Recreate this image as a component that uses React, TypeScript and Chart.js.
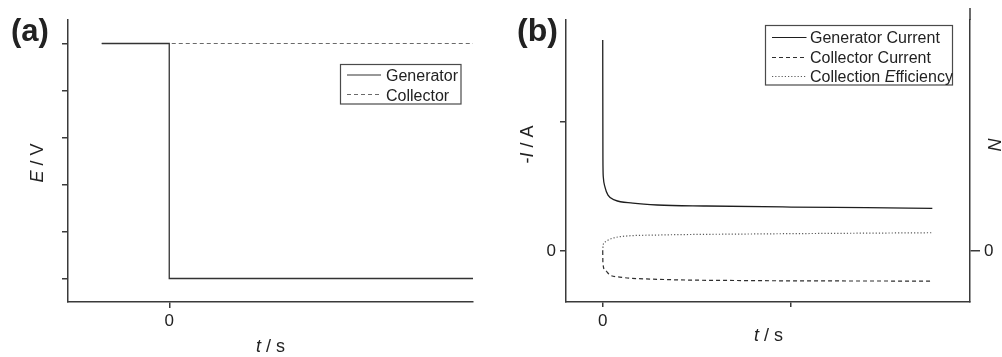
import React, { useEffect, useRef } from 'react';
import { Chart, registerables } from 'chart.js';
Chart.register(...registerables);

const FONT = '"Liberation Sans", Arial, Helvetica, sans-serif';
const AXIS = '#3a3a3a';
const TEXT = '#222222';

// ---------- Panel (a): potential steps ----------
const aTimeGenerator = [-2, 0, 0, 9];
const aPotentialGenerator = [5, 5, 0, 0];
const aTimeCollector = [-2, 9];
const aPotentialCollector = [5, 5];
const aXTicks = [0];
const aYTicks = [0, 1, 2, 3, 4, 5];
const aLegend = ['Generator', 'Collector'];

// ---------- Panel (b): currents & efficiency ----------
const bTimeGenerator = [0, 0.1, 0.3, 1.2, 2.8, 6.5, 16, 29, 55, 100, 140, 175];
const bCurrentGenerator = [1.636, 0.729, 0.574, 0.496, 0.434, 0.395, 0.372, 0.357, 0.349, 0.341, 0.336, 0.331];
const bTimeCollector = [0, 0.1, 1.2, 3.9, 9, 29, 77, 175];
const bCurrentCollector = [0, -0.093, -0.147, -0.186, -0.202, -0.219, -0.229, -0.233];
const bTimeEfficiency = [0, 0.2, 1.5, 3.5, 9, 29, 77, 175];
const bEfficiency = [0, 0.047, 0.072, 0.09, 0.111, 0.124, 0.132, 0.142];
const bXTicks = [0, 100];
const bYTicks = [0, 1];
const bY1Ticks = [0];
const bLegend = ['Generator Current', 'Collector Current', 'Collection Efficiency'];

type Seg = { text: string; italic?: boolean; bold?: boolean };

function segFont(s: Seg, size: number) {
  return `${s.italic ? 'italic ' : ''}${s.bold ? 'bold ' : ''}${size}px ${FONT}`;
}

function drawRich(ctx: CanvasRenderingContext2D, segs: Seg[], size: number, x: number, y: number, align: 'left' | 'center') {
  let total = 0;
  const widths = segs.map((s) => {
    ctx.font = segFont(s, size);
    const w = ctx.measureText(s.text).width;
    total += w;
    return w;
  });
  let cx = align === 'center' ? x - total / 2 : x;
  ctx.textAlign = 'left';
  ctx.textBaseline = 'alphabetic';
  segs.forEach((s, i) => {
    ctx.font = segFont(s, size);
    ctx.fillText(s.text, cx, y);
    cx += widths[i];
  });
}

function drawRotated(ctx: CanvasRenderingContext2D, segs: Seg[], size: number, x: number, y: number) {
  ctx.save();
  ctx.translate(x, y);
  ctx.rotate(-Math.PI / 2);
  drawRich(ctx, segs, size, 0, 0, 'center');
  ctx.restore();
}

function pts(xs: number[], ys: number[]) {
  return xs.map((x, i) => ({ x, y: ys[i] }));
}

function tickScale(values: number[]) {
  return (s: any) => {
    s.ticks = values.map((v) => ({ value: v }));
  };
}

type LegendItem = { label: Seg[]; color: string; dash: number[] };

function drawLegend(
  ctx: CanvasRenderingContext2D,
  box: { x: number; y: number; w: number; h: number },
  items: LegendItem[],
  rows: number[],
  lineX: [number, number],
  textX: number,
  baselines: number[]
) {
  ctx.save();
  ctx.strokeStyle = '#4a4a4a';
  ctx.lineWidth = 1.2;
  ctx.strokeRect(box.x, box.y, box.w, box.h);
  items.forEach((it, i) => {
    ctx.beginPath();
    ctx.setLineDash(it.dash);
    ctx.strokeStyle = it.color;
    ctx.lineWidth = 1.2;
    ctx.moveTo(lineX[0], rows[i]);
    ctx.lineTo(lineX[1], rows[i]);
    ctx.stroke();
    ctx.setLineDash([]);
    ctx.fillStyle = TEXT;
    drawRich(ctx, it.label, 16, textX, baselines[i], 'left');
  });
  ctx.restore();
}

function baseAxis(tickLength: number) {
  return {
    type: 'linear' as const,
    grid: { drawOnChartArea: false, drawTicks: true, tickLength, color: AXIS, lineWidth: 1.5 },
    border: { display: true, color: AXIS, width: 1.5 },
  };
}

export default function App() {
  const refA = useRef<HTMLCanvasElement | null>(null);
  const refB = useRef<HTMLCanvasElement | null>(null);

  useEffect(() => {
    const genA = '#333333';
    const colA = '#6a6a6a';
    const chartA = new Chart(refA.current as HTMLCanvasElement, {
      type: 'scatter',
      data: {
        datasets: [
          { label: aLegend[0], data: pts(aTimeGenerator, aPotentialGenerator), showLine: true, borderColor: genA, borderWidth: 1.3, pointRadius: 0, fill: false },
          { label: aLegend[1], data: pts(aTimeCollector, aPotentialCollector), showLine: true, borderColor: colA, borderWidth: 1.2, borderDash: [4, 3], pointRadius: 0, fill: false },
        ],
      },
      options: {
        responsive: false,
        animation: false,
        layout: { padding: { left: 0, top: 20, right: 27, bottom: 0 } },
        plugins: { legend: { display: false }, tooltip: { enabled: false } },
        scales: {
          x: {
            ...baseAxis(6),
            min: -3,
            max: 9,
            afterBuildTicks: tickScale(aXTicks),
            afterFit: (s: any) => { s.height = 55; },
            ticks: { color: TEXT, font: { size: 17, family: FONT }, padding: 3, maxRotation: 0 },
          },
          y: {
            ...baseAxis(6),
            min: -0.5,
            max: 5.5,
            afterBuildTicks: tickScale(aYTicks),
            afterFit: (s: any) => { s.width = 68; },
            ticks: { display: false },
          },
        },
      },
      plugins: [
        {
          id: 'decorA',
          afterDraw(chart: any) {
            const ctx = chart.ctx as CanvasRenderingContext2D;
            ctx.save();
            ctx.fillStyle = TEXT;
            drawRich(ctx, [{ text: '(a)', bold: true }], 31, 11, 41, 'left');
            drawRotated(ctx, [{ text: 'E', italic: true }, { text: ' / V' }], 18, 43, 163);
            drawRich(ctx, [{ text: 't', italic: true }, { text: ' / s' }], 18, 270.5, 352, 'center');
            drawLegend(
              ctx,
              { x: 340.5, y: 64.5, w: 120.5, h: 39.5 },
              [
                { label: [{ text: aLegend[0] }], color: genA, dash: [] },
                { label: [{ text: aLegend[1] }], color: colA, dash: [4, 3] },
              ],
              [75, 94.5],
              [347, 381],
              386,
              [81, 100.5]
            );
            ctx.restore();
          },
        },
      ],
    } as any);

    const genB = '#1e1e1e';
    const colB = '#2e2e2e';
    const effB = '#5a5a5a';
    const yMin = -0.395;
    const yMax = 1.791;
    const chartB = new Chart(refB.current as HTMLCanvasElement, {
      type: 'scatter',
      data: {
        datasets: [
          { label: bLegend[0], data: pts(bTimeGenerator, bCurrentGenerator), showLine: true, borderColor: genB, borderWidth: 1.3, pointRadius: 0, fill: false, cubicInterpolationMode: 'monotone', yAxisID: 'y' },
          { label: bLegend[1], data: pts(bTimeCollector, bCurrentCollector), showLine: true, borderColor: colB, borderWidth: 1.2, borderDash: [4, 3], pointRadius: 0, fill: false, cubicInterpolationMode: 'monotone', yAxisID: 'y' },
          { label: bLegend[2], data: pts(bTimeEfficiency, bEfficiency), showLine: true, borderColor: effB, borderWidth: 1.2, borderDash: [1.2, 2], pointRadius: 0, fill: false, cubicInterpolationMode: 'monotone', yAxisID: 'y1' },
        ],
      },
      options: {
        responsive: false,
        animation: false,
        layout: { padding: { left: 0, top: 20, right: 0, bottom: 0 } },
        plugins: { legend: { display: false }, tooltip: { enabled: false } },
        scales: {
          x: {
            ...baseAxis(5),
            min: -19.5,
            max: 195,
            afterBuildTicks: tickScale(bXTicks),
            afterFit: (s: any) => { s.height = 55; },
            ticks: { color: TEXT, font: { size: 17, family: FONT }, padding: 4, maxRotation: 0, callback: (v: any) => (v === 0 ? '0' : '') },
          },
          y: {
            ...baseAxis(6),
            position: 'left',
            min: yMin,
            max: yMax,
            afterBuildTicks: tickScale(bYTicks),
            afterFit: (s: any) => { s.width = 66; },
            ticks: { color: TEXT, font: { size: 17, family: FONT }, padding: 4, callback: (v: any) => (v === 0 ? '0' : '') },
          },
          y1: {
            ...baseAxis(10),
            position: 'right',
            min: yMin,
            max: yMax,
            afterBuildTicks: tickScale(bY1Ticks),
            afterFit: (s: any) => { s.width = 32; },
            ticks: { color: TEXT, font: { size: 17, family: FONT }, padding: 4, callback: (v: any) => (v === 0 ? '0' : '') },
          },
        },
      },
      plugins: [
        {
          id: 'decorB',
          afterDraw(chart: any) {
            const ctx = chart.ctx as CanvasRenderingContext2D;
            const ca = chart.chartArea;
            ctx.save();
            // right axis continues above the plot top
            ctx.strokeStyle = AXIS;
            ctx.lineWidth = 1.5;
            ctx.beginPath();
            ctx.moveTo(ca.right, 8);
            ctx.lineTo(ca.right, ca.top);
            ctx.stroke();
            ctx.fillStyle = TEXT;
            drawRich(ctx, [{ text: '(b)', bold: true }], 32, 17, 41, 'left');
            drawRotated(ctx, [{ text: '-' }, { text: 'I', italic: true }, { text: ' / A' }], 18, 33, 144.5);
            drawRotated(ctx, [{ text: 'N', italic: true }], 18, 501, 145);
            drawRich(ctx, [{ text: 't', italic: true }, { text: ' / s' }], 18, 268.5, 341, 'center');
            drawLegend(
              ctx,
              { x: 265.5, y: 25.5, w: 187, h: 59.5 },
              [
                { label: [{ text: 'Generator Current' }], color: genB, dash: [] },
                { label: [{ text: 'Collector Current' }], color: colB, dash: [4, 3] },
                { label: [{ text: 'Collection ' }, { text: 'E', italic: true }, { text: 'fficiency' }], color: effB, dash: [1.2, 2] },
              ],
              [37.5, 57.5, 76.5],
              [272, 306.5],
              310,
              [43, 62.5, 82]
            );
            ctx.restore();
          },
        },
      ],
    } as any);

    return () => {
      chartA.destroy();
      chartB.destroy();
    };
  }, []);

  return (
    <div style={{ position: 'fixed', left: 0, top: 0, width: 1002, height: 357, background: '#ffffff', overflow: 'hidden' }}>
      <canvas ref={refA} width={500} height={357} style={{ position: 'absolute', left: 0, top: 0, width: 500, height: 357 }} />
      <canvas ref={refB} width={502} height={357} style={{ position: 'absolute', left: 500, top: 0, width: 502, height: 357 }} />
    </div>
  );
}
